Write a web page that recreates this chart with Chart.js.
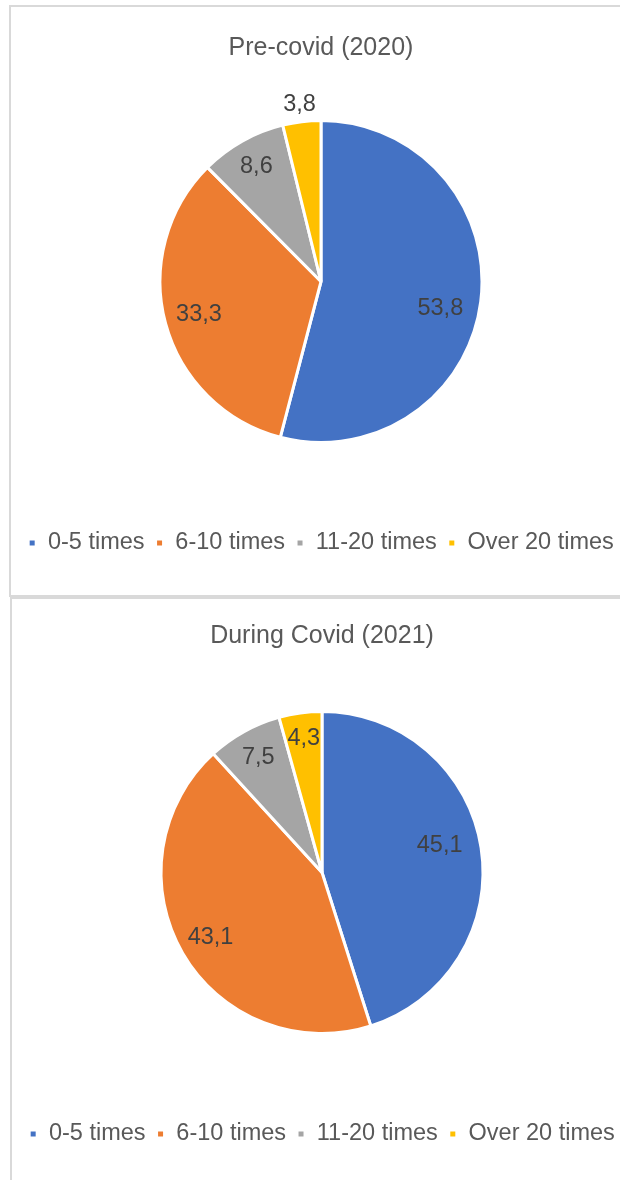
<!DOCTYPE html>
<html>
<head>
<meta charset="utf-8">
<script src="https://cdn.jsdelivr.net/npm/chart.js@4.4.1/dist/chart.umd.min.js"></script>
<style>
  html, body { margin: 0; padding: 0; background: #ffffff; overflow: hidden; width: 620px; height: 1180px; }
  .box { position: absolute; border: 2px solid #d9d9d9; background: #fff; }
  #box1 { left: 9px; top: 5px; width: 640px; height: 588px; }
  #box2 { left: 10px; top: 597px; width: 640px; height: 600px; }
  canvas { position: absolute; left: 0; top: 0; }
</style>
</head>
<body>
<div class="box" id="box1"><canvas id="c1" width="620" height="588"></canvas></div>
<div class="box" id="box2"><canvas id="c2" width="620" height="581"></canvas></div>
<script>
// ---- data ----
const categories = ['0-5 times', '6-10 times', '11-20 times', 'Over 20 times'];
const titles = ['Pre-covid (2020)', 'During Covid (2021)'];
const values2020 = [53.8, 33.3, 8.6, 3.8];
const values2021 = [45.1, 43.1, 7.5, 4.3];
const colors = ['#4472C4', '#ED7D31', '#A5A5A5', '#FFC000'];

const FONT = '"Liberation Sans", Arial, Helvetica, sans-serif';
const fmt = v => v.toFixed(1).replace('.', ',');

const sliceLabels = {
  id: 'sliceLabels',
  afterDatasetsDraw(chart, args, opts) {
    const ctx = chart.ctx;
    const meta = chart.getDatasetMeta(0);
    const data = chart.data.datasets[0].data;
    ctx.save();
    ctx.font = '23.5px ' + FONT;
    ctx.fillStyle = '#404040';
    ctx.textAlign = 'center';
    ctx.textBaseline = 'middle';
    meta.data.forEach((arc, i) => {
      const p = arc.getProps(['x', 'y', 'startAngle', 'endAngle', 'outerRadius'], true);
      const mid = (p.startAngle + p.endAngle) / 2 + (opts.shift[i] || 0) * Math.PI / 180;
      const d = p.outerRadius * opts.radial[i];
      ctx.fillText(fmt(data[i]), p.x + Math.cos(mid) * d, p.y + Math.sin(mid) * d);
    });
    ctx.restore();
  }
};

function makePie(id, title, values, cfg) {
  return new Chart(document.getElementById(id), {
    type: 'pie',
    data: {
      labels: categories,
      datasets: [{
        data: values,
        backgroundColor: colors,
        borderColor: '#ffffff',
        borderWidth: 3,
        radius: 161
      }]
    },
    options: {
      responsive: false,
      animation: false,
      events: [],
      layout: { padding: { top: 0, left: 0, right: 0, bottom: cfg.padBottom } },
      plugins: {
        title: {
          display: true,
          text: title,
          color: '#595959',
          font: { family: FONT, size: 25, weight: 'normal', lineHeight: 1.2 },
          padding: { top: cfg.titleTop, bottom: cfg.titleBottom }
        },
        legend: {
          display: true,
          position: 'bottom',
          title: { display: true, text: '', font: { size: 1, lineHeight: 1 }, padding: { top: cfg.legendGap, bottom: 0 } },
          labels: {
            color: '#595959',
            font: { family: FONT, size: 23.5 },
            boxWidth: 8,
            boxHeight: 8,
            padding: 11
          }
        },
        tooltip: { enabled: false },
        sliceLabels: { radial: cfg.radial, shift: cfg.shift }
      }
    },
    plugins: [sliceLabels]
  });
}

makePie('c1', titles[0], values2020, {
  titleTop: 26.5, titleBottom: 55.5, legendGap: 75.25, padBottom: 30.25,
  radial: [0.76, 0.785, 0.82, 1.11], shift: [5.4, 0, 0, 0]
});
makePie('c2', titles[1], values2021, {
  titleTop: 22, titleBottom: 59, legendGap: 75.25, padBottom: 24.25,
  radial: [0.75, 0.8, 0.816, 0.837], shift: [-4.2, 0, 0, 0]
});
</script>
</body>
</html>
